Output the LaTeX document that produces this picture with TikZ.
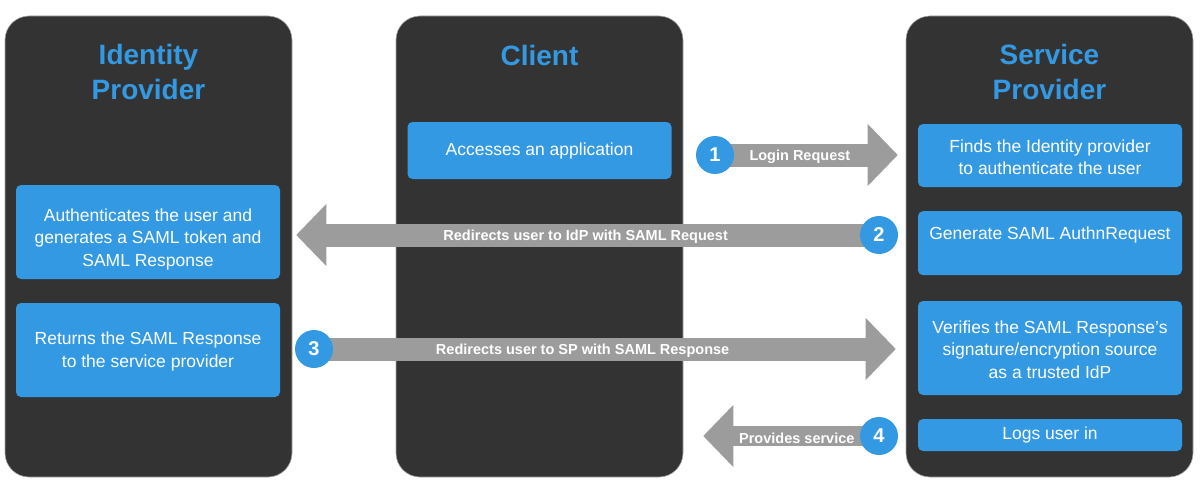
\documentclass[tikz,border=0pt]{standalone}
\usepackage{fontspec}
\setmainfont{Liberation Sans}
\usetikzlibrary{arrows.meta}
\definecolor{panelgray}{HTML}{333333}
\definecolor{samlblue}{HTML}{3399E3}
\definecolor{arrowgray}{HTML}{9C9C9C}
\tikzset{
  panel/.style={fill=panelgray,draw=black!35,line width=0.6pt,rounded corners=24pt,
    minimum width=287pt,minimum height=461pt,inner sep=0pt},
  header/.style={text=samlblue,font=\fontsize{28}{35}\selectfont\bfseries,align=center},
  stepbox/.style={fill=samlblue,rounded corners=5pt,text=white,align=center,
    font=\fontsize{17.5}{22.5}\selectfont,minimum width=264pt,inner sep=0pt},
  num/.style={circle,fill=samlblue,text=white,font=\fontsize{20}{20}\selectfont\bfseries,
    minimum size=38pt,inner sep=0pt},
  flow/.style={arrowgray,line width=23pt,
    -{Triangle[length=30pt,width=62pt,line width=0pt]}},
  flowtext/.style={text=white,yshift=-2pt,font=\fontsize{14.5}{14.5}\selectfont\bfseries}
}
\begin{document}
\begin{tikzpicture}[x=1pt,y=-1pt]
\useasboundingbox (0,0) rectangle (1200,495);
\node[panel] (idp) at (148.5,246.5) {};
\node[panel] (client) at (539.5,246.5) {};
\node[panel] (sp) at (1049.5,246.5) {};
\node[header] (idph) at (148.5,72) {Identity\\Provider};
\node[header] (clienth) at (539.5,55) {Client};
\node[header] (sph) at (1049.5,72) {Service\\Provider};
\node[stepbox,minimum height=94pt] (auth) at (148,232) {\rule{0pt}{27pt}Authenticates the user and\\generates a SAML token and\\SAML Response};
\node[stepbox,minimum height=94pt] (ret) at (148,350) {\rule{0pt}{16pt}Returns the SAML Response\\to the service provider};
\node[stepbox,minimum height=57pt] (access) at (539.5,150.5) {Accesses an application};
\node[stepbox,minimum height=63pt] (find) at (1050,155.5) {\rule{0pt}{16pt}Finds the Identity provider\\to authenticate the user};
\node[stepbox,anchor=north,text height=28.5pt,text depth=35.5pt] (gen) at (1050,211) {Generate SAML AuthnRequest};
\node[stepbox,minimum height=94pt] (verify) at (1050,348) {\rule{0pt}{16pt}Verifies the SAML Response’s\\signature/encryption source\\as a trusted IdP};
\node[stepbox,minimum height=32pt] (login) at (1050,435) {Logs user in};
\coordinate (p1) at (715,155);
\coordinate (p2) at (879,235);
\coordinate (p3) at (314,349);
\coordinate (p4) at (879,436);
\draw[flow,shorten >=8pt] (p1) -- (p1 -| sp.west) node[flowtext,pos=0.445] {Login Request};
\draw[flow,shorten >=4pt] (p2) -- (p2 -| idp.east) node[flowtext,midway] {Redirects user to IdP with SAML Request};
\draw[flow,shorten >=10pt] (p3) -- (p3 -| sp.west) node[flowtext,pos=0.454] {Redirects user to SP with SAML Response};
\draw[flow,line width=20pt,shorten >=20pt] (p4) -- (p4 -| client.east) node[flowtext,pos=0.42] {Provides service};
\node[num] (n1) at (p1) {1};
\node[num] (n2) at (p2) {2};
\node[num] (n3) at (p3) {3};
\node[num] (n4) at (p4) {4};
\end{tikzpicture}
\end{document}
